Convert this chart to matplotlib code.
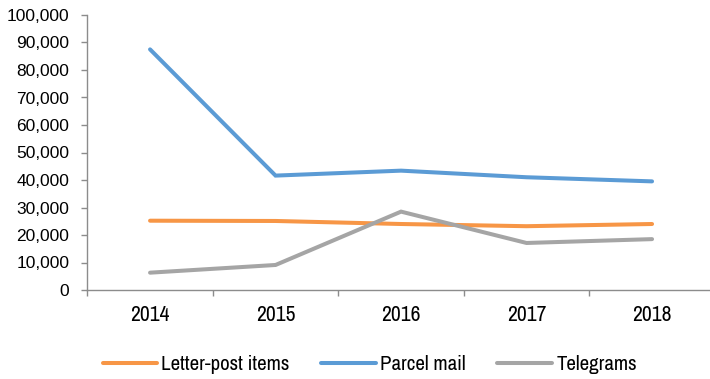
import numpy as np
import matplotlib
matplotlib.use("Agg")
import matplotlib.pyplot as plt
from matplotlib.ticker import FuncFormatter, FixedLocator

years = ["2014", "2015", "2016", "2017", "2018"]
letter_post = [25200, 25100, 24000, 23200, 24000]
parcel_mail = [87500, 41600, 43400, 41000, 39500]
telegrams = [6300, 9100, 28500, 17100, 18500]

plt.rcParams["font.family"] = ["Liberation Sans", "DejaVu Sans"]
narrow = ["Liberation Sans Narrow", "Arial Narrow", "Archivo Narrow", "Liberation Sans"]

fig = plt.figure(figsize=(7.1, 3.79), dpi=100)
ax = fig.add_axes([87.3 / 710, 1 - 290 / 379, 627.5 / 710, 275 / 379])

x = np.arange(len(years))
series = [
    ("Letter-post items", letter_post, "#F79646"),
    ("Parcel mail", parcel_mail, "#5B9BD5"),
    ("Telegrams", telegrams, "#A5A5A5"),
]
for name, vals, col in series:
    ax.plot(x, vals, color=col, lw=2.9, label=name,
            solid_capstyle="round", solid_joinstyle="miter")

ax.set_xlim(-0.5, len(years) - 0.5)
ax.set_ylim(0, 100000)
ax.set_yticks(np.arange(0, 100001, 10000))
ax.yaxis.set_major_formatter(FuncFormatter(lambda v, p: f"{int(v):,}"))
ax.set_xticks(x)
ax.set_xticklabels(years, family=narrow, fontsize=15.5)
ax.xaxis.set_minor_locator(FixedLocator(np.arange(-0.5, len(years), 1.0)))

for side in ["top", "right"]:
    ax.spines[side].set_visible(False)
for side in ["left", "bottom"]:
    ax.spines[side].set_color("#8C8C8C")
    ax.spines[side].set_linewidth(1.0)

ax.tick_params(axis="y", direction="out", length=4.5, width=1.0,
               color="#8C8C8C", labelsize=12.5, pad=8.5, labelcolor="black")
ax.tick_params(axis="x", which="major", length=0, pad=11, labelcolor="black")
ax.tick_params(axis="x", which="minor", direction="out", length=4.5,
               width=1.0, color="#8C8C8C")

leg = fig.legend(loc="center", bbox_to_anchor=(369.7 / 710, 1 - 364.5 / 379),
                 ncol=3, frameon=False, handlelength=2.6, handletextpad=0.22,
                 columnspacing=1.52, borderpad=0, borderaxespad=0,
                 prop={"family": narrow, "size": 15})

fig.savefig("out.png", dpi=100)
